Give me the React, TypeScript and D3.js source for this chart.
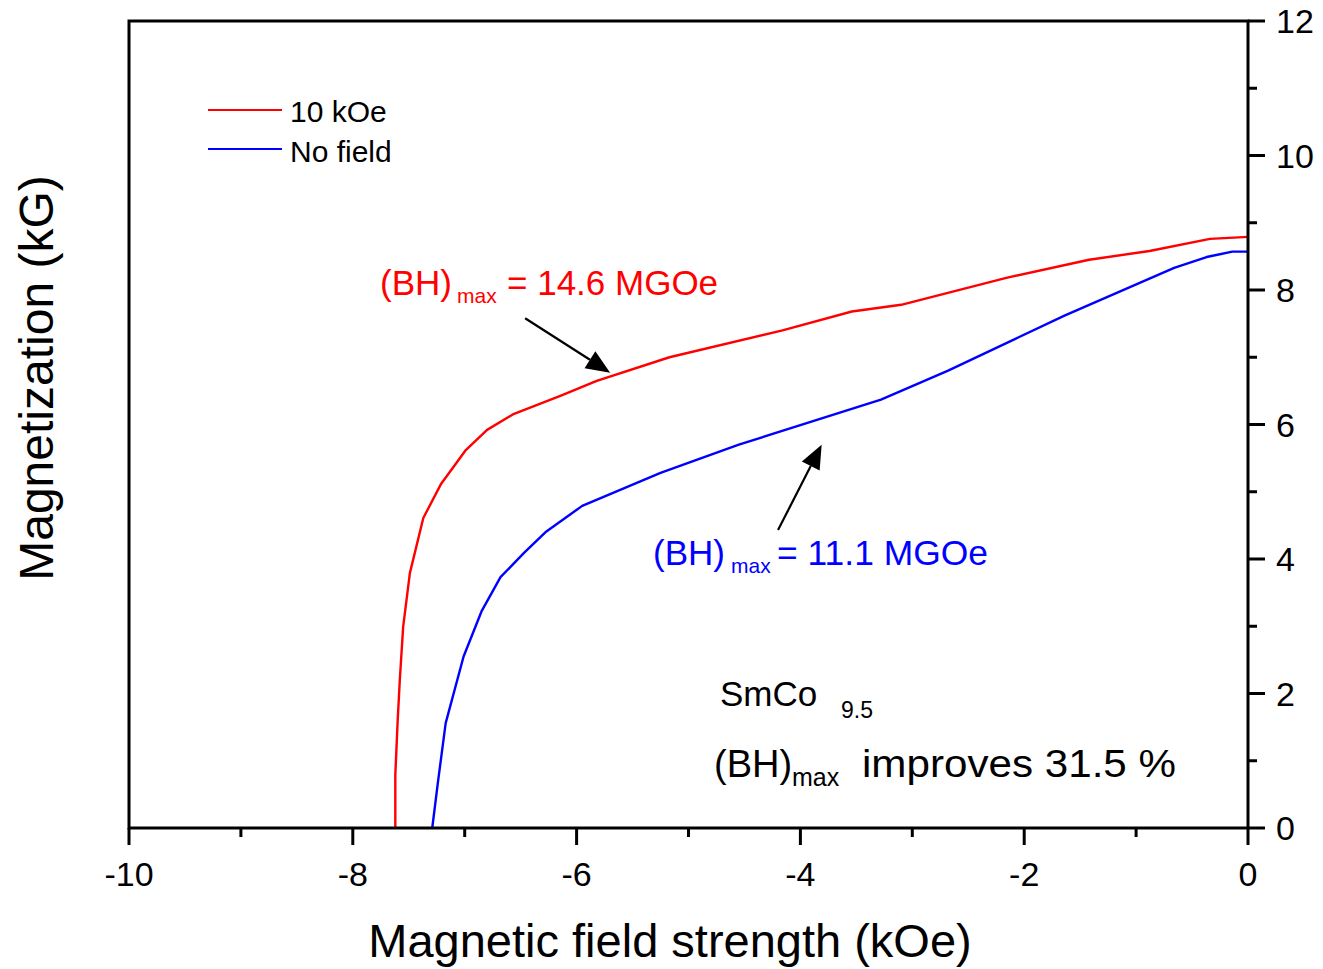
import React from "react";
import * as d3 from "d3";

// ---- Data ----
const field10kOeX = [-7.62, -7.62, -7.6, -7.58, -7.55, -7.49, -7.37, -7.21, -6.99, -6.8, -6.57, -6.14, -5.82, -5.17, -4.16, -3.54, -3.1, -2.16, -1.42, -0.88, -0.34, 0];
const field10kOeY = [0, 0.79, 1.56, 2.2, 2.99, 3.79, 4.61, 5.12, 5.62, 5.92, 6.15, 6.43, 6.65, 7.0, 7.4, 7.68, 7.78, 8.18, 8.45, 8.58, 8.76, 8.79];
const noFieldX = [-7.29, -7.24, -7.17, -7.01, -6.85, -6.68, -6.47, -6.27, -5.95, -5.25, -4.55, -3.28, -2.68, -1.64, -0.66, -0.37, -0.14, 0];
const noFieldY = [0, 0.67, 1.56, 2.55, 3.22, 3.73, 4.09, 4.41, 4.79, 5.28, 5.7, 6.37, 6.8, 7.62, 8.33, 8.49, 8.57, 8.57];

const xMajorTicks = [-10, -8, -6, -4, -2, 0];
const xMinorTicks = [-9, -7, -5, -3, -1];
const yMajorTicks = [0, 2, 4, 6, 8, 10, 12];
const yMinorTicks = [1, 3, 5, 7, 9, 11];

const seriesNames = ["10 kOe", "No field"];
// arrows: [fromX, fromY, toX, toY] in data units
const redArrow = [-6.46, 7.58, -5.7, 6.77];
const blueArrow = [-4.2, 4.43, -3.81, 5.7];

const W = 1323;
const H = 969;
const FONT = "'Liberation Sans', Arial, Helvetica, sans-serif";
const RED = "#ff0000";
const BLUE = "#0000ff";

function Arrow({ a, x, y }: { a: number[]; x: any; y: any }) {
  const x1 = x(a[0]), y1 = y(a[1]), x2 = x(a[2]), y2 = y(a[3]);
  const ang = Math.atan2(y2 - y1, x2 - x1);
  const L = 24, Wd = 10;
  const bx = x2 - L * Math.cos(ang), by = y2 - L * Math.sin(ang);
  const px = -Math.sin(ang) * Wd, py = Math.cos(ang) * Wd;
  return (
    <g>
      <line x1={x1} y1={y1} x2={bx} y2={by} stroke="#000" strokeWidth={2.2} />
      <polygon points={`${x2},${y2} ${bx + px},${by + py} ${bx - px},${by - py}`} fill="#000" />
    </g>
  );
}

export default function App() {
  const x = d3.scaleLinear().domain([-10, 0]).range([129, 1248]);
  const y = d3.scaleLinear().domain([0, 12]).range([828, 21]);
  const line = d3.line<[number, number]>().x((d) => x(d[0])).y((d) => y(d[1]));
  const redPts = field10kOeX.map((v, i) => [v, field10kOeY[i]] as [number, number]);
  const bluePts = noFieldX.map((v, i) => [v, noFieldY[i]] as [number, number]);

  const [x0, x1] = x.range();
  const [y0, y1] = y.range();

  return (
    <svg width={W} height={H} style={{ position: "absolute", left: 0, top: 0, background: "#fff" }} fontFamily={FONT}>
      <rect x={0} y={0} width={W} height={H} fill="#fff" />
      {/* curves */}
      <path d={line(redPts) || ""} fill="none" stroke={RED} strokeWidth={2.4} strokeLinejoin="round" />
      <path d={line(bluePts) || ""} fill="none" stroke={BLUE} strokeWidth={2.4} strokeLinejoin="round" />

      {/* frame */}
      <rect x={x0} y={y1} width={x1 - x0} height={y0 - y1} fill="none" stroke="#000" strokeWidth={3} />

      {/* bottom ticks */}
      {xMajorTicks.map((t) => (
        <g key={"xm" + t}>
          <line x1={x(t)} x2={x(t)} y1={y0} y2={y0 + 17} stroke="#000" strokeWidth={3} />
          <text x={x(t)} y={y0 + 58} fontSize={34} textAnchor="middle">{t === 0 ? "0" : "-" + Math.abs(t)}</text>
        </g>
      ))}
      {xMinorTicks.map((t) => (
        <line key={"xn" + t} x1={x(t)} x2={x(t)} y1={y0} y2={y0 + 9} stroke="#000" strokeWidth={3} />
      ))}

      {/* right ticks */}
      {yMajorTicks.map((t) => (
        <g key={"ym" + t}>
          <line x1={x1} x2={x1 + 17} y1={y(t)} y2={y(t)} stroke="#000" strokeWidth={3} />
          <text x={x1 + 28} y={y(t) + 12} fontSize={34} textAnchor="start">{t}</text>
        </g>
      ))}
      {yMinorTicks.map((t) => (
        <line key={"yn" + t} x1={x1} x2={x1 + 9} y1={y(t)} y2={y(t)} stroke="#000" strokeWidth={3} />
      ))}

      {/* axis titles */}
      <text x={670} y={957} fontSize={47} textAnchor="middle">Magnetic field strength (kOe)</text>
      <text transform="translate(53,378) rotate(-90)" fontSize={48} textAnchor="middle">Magnetization (kG)</text>

      {/* legend */}
      <line x1={208} x2={282} y1={110} y2={110} stroke={RED} strokeWidth={2} />
      <text x={290} y={122} fontSize={30}>{seriesNames[0]}</text>
      <line x1={208} x2={282} y1={149} y2={149} stroke={BLUE} strokeWidth={2} />
      <text x={290} y={162} fontSize={30}>{seriesNames[1]}</text>

      {/* annotations */}
      <g fill={RED}>
        <text x={380} y={295} fontSize={35}>(BH)</text>
        <text x={457} y={303} fontSize={21}>max</text>
        <text x={507} y={295} fontSize={35}>= 14.6 MGOe</text>
      </g>
      <g fill={BLUE}>
        <text x={653} y={565} fontSize={35}>(BH)</text>
        <text x={731} y={573} fontSize={21}>max</text>
        <text x={777} y={565} fontSize={35} textLength={211} lengthAdjust="spacingAndGlyphs">= 11.1 MGOe</text>
      </g>
      <Arrow a={redArrow} x={x} y={y} />
      <Arrow a={blueArrow} x={x} y={y} />

      <g fill="#000">
        <text x={720} y={706} fontSize={35}>SmCo</text>
        <text x={841} y={718} fontSize={23}>9.5</text>
        <text x={714} y={777} fontSize={38}>(BH)</text>
        <text x={792} y={786} fontSize={25}>max</text>
        <text x={862} y={777} fontSize={39} textLength={314} lengthAdjust="spacingAndGlyphs">improves 31.5 %</text>
      </g>
    </svg>
  );
}
